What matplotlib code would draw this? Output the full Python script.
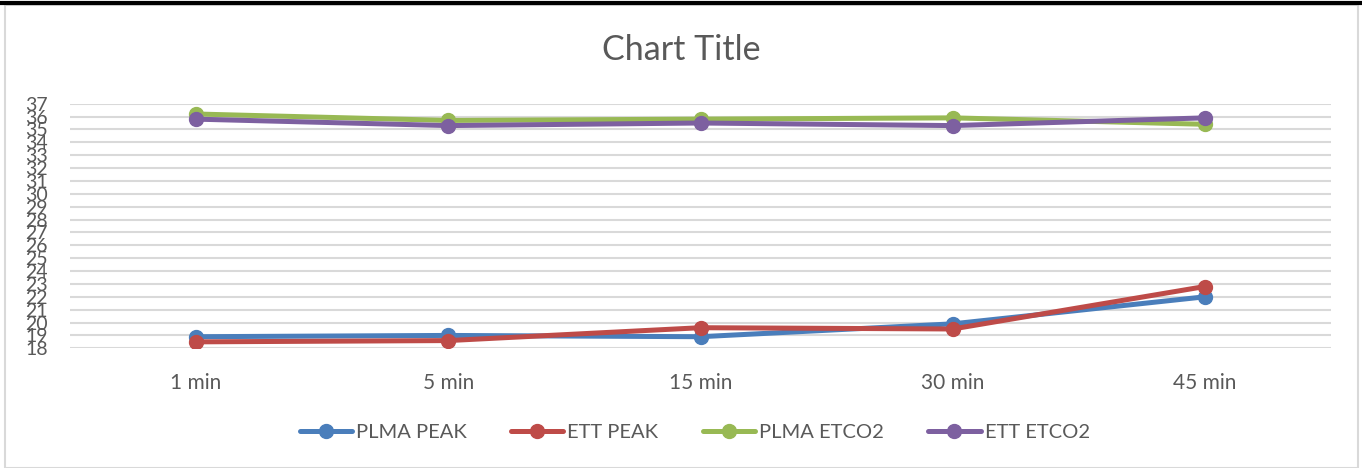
import matplotlib.pyplot as plt
from matplotlib.patches import Rectangle
from matplotlib.lines import Line2D

plt.rcParams['font.family'] = ['Lato', 'DejaVu Sans']

times = ["1 min", "5 min", "15 min", "30 min", "45 min"]
plma_peak = [18.9, 19.0, 18.9, 19.9, 22.0]
ett_peak = [18.5, 18.6, 19.6, 19.5, 22.8]
plma_etco2 = [36.2, 35.7, 35.8, 35.9, 35.4]
ett_etco2 = [35.8, 35.3, 35.5, 35.3, 35.9]

series = [
    ("PLMA PEAK", plma_peak, "#4a7ebb"),
    ("ETT PEAK", ett_peak, "#be4b48"),
    ("PLMA ETCO2", plma_etco2, "#98b954"),
    ("ETT ETCO2", ett_etco2, "#7d60a0"),
]

fig = plt.figure(figsize=(13.62, 4.68), dpi=100)

# chart frame and the black rule along the top edge
fig.patches.append(Rectangle((5 / 1362, 0), 1353 / 1362, 463 / 468, transform=fig.transFigure,
                             fill=False, edgecolor="#d9d9d9", linewidth=1.5))
fig.lines.append(Line2D([0, 1], [1 - 2.5 / 468, 1 - 2.5 / 468], transform=fig.transFigure,
                        color="black", linewidth=3))

ax = fig.add_axes([70 / 1362, 119.7 / 468, 1261 / 1362, 244.6 / 468])

x = range(len(times))
for name, vals, col in series:
    ax.plot(x, vals, color=col, linewidth=3.6, marker="o", markersize=10,
            label=name, solid_capstyle="round", zorder=3)

ax.set_xlim(-0.5, len(times) - 0.5)
ax.set_ylim(18, 37)
ax.set_yticks(range(18, 38))
ax.set_xticks(list(x))
ax.set_xticklabels(times)
ax.grid(axis="y", color="#d9d9d9", linewidth=1.5)
ax.set_axisbelow(True)
for s in ax.spines.values():
    s.set_visible(False)
ax.tick_params(length=0, colors="#595959")
ax.tick_params(axis="y", pad=16, labelsize=14)
ax.tick_params(axis="x", pad=18, labelsize=15)

fig.text(0.5, 1 - 50 / 468, "Chart Title", ha="center", va="center",
         fontsize=24.5, color="#595959")

fig.legend(loc="center", bbox_to_anchor=(0.51, 0.075), ncol=4, frameon=False,
           fontsize=14.5, labelcolor="#595959", handlelength=2.6,
           handletextpad=0.2, columnspacing=2.2)

fig.savefig("out.png", dpi=100)
